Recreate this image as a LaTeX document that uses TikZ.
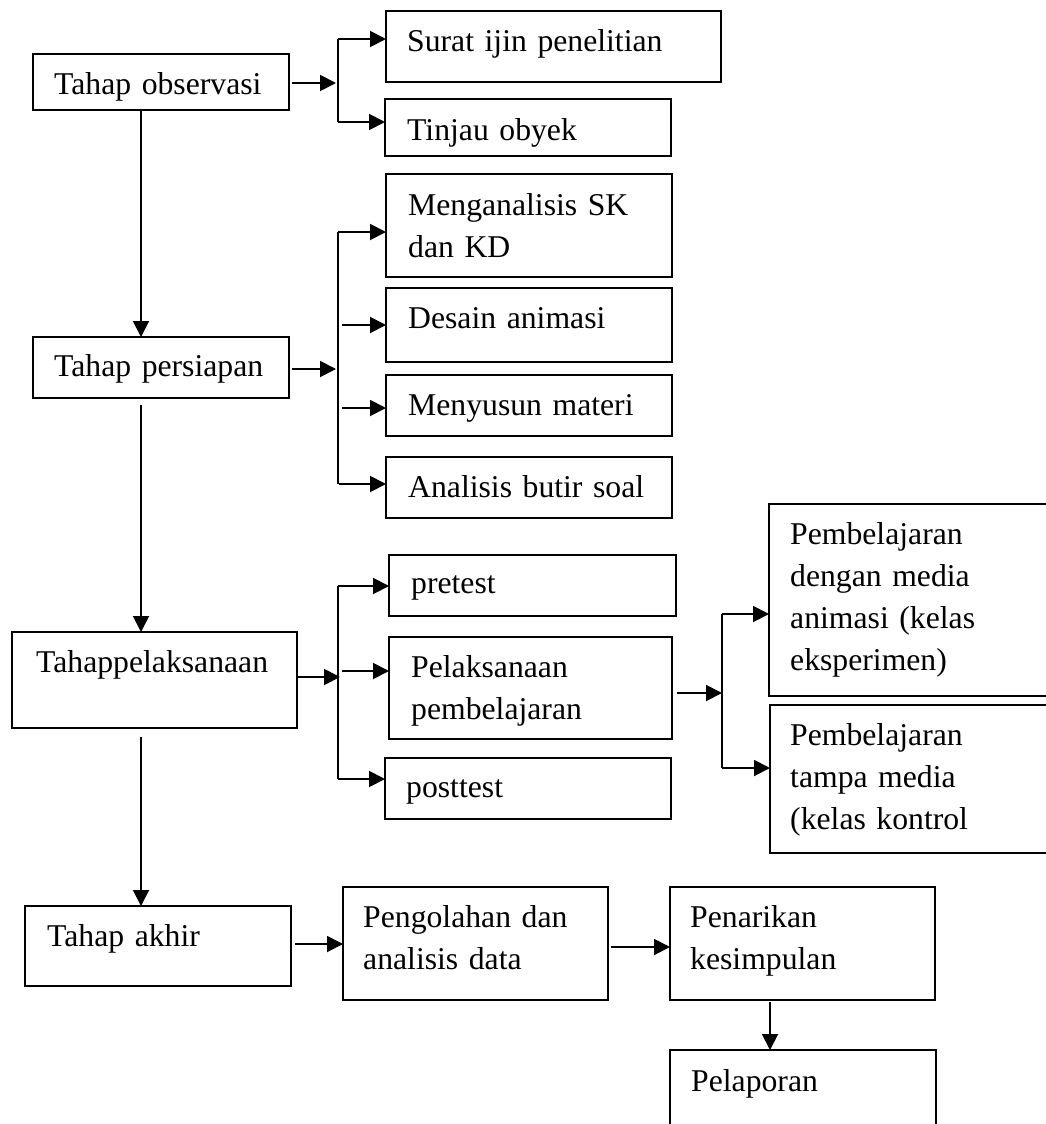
\documentclass[tikz,border=0pt]{standalone}
\usepackage{fontspec}
\setmainfont{Liberation Serif}
\usetikzlibrary{arrows.meta}
\newcommand\bx[5]{\node[box, minimum width={(#4-#2)*1pt}, minimum height={(#5-#3)*1pt}] (#1) at (#2,#3) {};}
\newcommand\tx[4]{\node[txt] (#1) at (#2,#3) {#4};}
\begin{document}
\begin{tikzpicture}[x=1pt,y=-1pt,
  box/.style={draw, line width=1.9pt, rectangle, inner sep=0pt, outer sep=0pt, anchor=north west},
  txt/.style={inner sep=0pt, anchor=base west, align=left, text width=320pt, font=\fontsize{31.7}{42}\selectfont},
  ln/.style={line width=1.9pt},
  arr/.style={line width=1.9pt, -{Triangle[length=16pt,width=16pt]}}]
\useasboundingbox (0,0) rectangle (1046,1124);
\clip (0,0) rectangle (1046,1124);
\fill[white] (0,0) rectangle (1046,1124);

% boxes
\bx{obs}{33}{54}{289}{110}
\bx{surat}{386}{11}{721}{82}
\bx{tinjau}{385}{99}{671}{156}
\bx{persiapan}{33}{337}{289}{398}
\bx{meng}{386}{174}{672}{277}
\bx{desain}{386}{288}{672}{362}
\bx{menyusun}{386}{375}{672}{436}
\bx{analisis}{386}{457}{672}{518}
\bx{pelaks}{12}{632}{297}{728}
\bx{pretest}{389}{555}{676}{616}
\bx{pemb}{389}{637}{672}{739}
\bx{posttest}{385}{758}{671}{819}
\bx{exp}{769}{504}{1070}{696}
\bx{kontrol}{770}{705}{1070}{853}
\bx{akhir}{25}{906}{291}{986}
\bx{olah}{343}{887}{608}{1000}
\bx{tarik}{670}{887}{935}{1000}
\bx{lapor}{670}{1050}{936}{1150}

% texts
\tx{obs-t}{54}{94}{Tahap observasi}
\tx{surat-t}{407}{52}{Surat ijin penelitian}
\tx{tinjau-t}{407}{140}{Tinjau obyek}
\tx{persiapan-t}{54}{376}{Tahap persiapan}
\tx{meng-t}{408}{215}{Menganalisis SK\\dan KD}
\tx{desain-t}{408}{328}{Desain animasi}
\tx{menyusun-t}{408}{415}{Menyusun materi}
\tx{analisis-t}{408}{497}{Analisis butir soal}
\tx{pelaks-t}{36}{672}{Tahappelaksanaan}
\tx{pretest-t}{411}{593}{pretest}
\tx{pemb-t}{411}{677}{Pelaksanaan\\pembelajaran}
\tx{posttest-t}{406}{797}{posttest}
\tx{exp-t}{790}{544}{Pembelajaran\\dengan media\\animasi (kelas\\eksperimen)}
\tx{kontrol-t}{790}{745}{Pembelajaran\\tampa media\\(kelas kontrol}
\tx{akhir-t}{47}{946}{Tahap akhir}
\tx{olah-t}{363}{927}{Pengolahan dan\\analisis data}
\tx{tarik-t}{690}{927}{Penarikan\\kesimpulan}
\tx{lapor-t}{691}{1091}{Pelaporan}

% junction coordinates
\coordinate (vx) at (141,0);
\coordinate (j1) at (336,83);
\coordinate (b1t) at (338,39);
\coordinate (b1b) at (338,122);
\coordinate (j2) at (336,369);
\coordinate (b2t) at (338,232);
\coordinate (b2b) at (338,484);
\coordinate (s2a) at (342,325);
\coordinate (s2b) at (342,408);
\coordinate (j3) at (340,677);
\coordinate (b3t) at (338,586);
\coordinate (b3b) at (338,779);
\coordinate (s3a) at (342,671);
\coordinate (j4) at (722,693);
\coordinate (b4t) at (722,614);
\coordinate (b4b) at (722,768);
\coordinate (vx2) at (770,0);

% observasi
\draw[arr] ([xshift=3pt]obs.east |- j1) -- (j1);
\draw[ln] (b1t) -- (b1b);
\draw[arr] (b1t) -- (b1t -| surat.west);
\draw[arr] (b1b) -- (b1b -| tinjau.west);
\draw[arr] ([yshift=-1pt]obs.south -| vx) -- (persiapan.north -| vx);

% persiapan
\draw[arr] ([xshift=3pt]persiapan.east |- j2) -- (j2);
\draw[ln] (b2t) -- (b2b);
\draw[arr] (b2t) -- (b2t -| meng.west);
\draw[arr] (s2a) -- (s2a -| desain.west);
\draw[arr] (s2b) -- (s2b -| menyusun.west);
\draw[arr] ([xshift=1pt]b2b) -- (b2b -| analisis.west);
\draw[arr] ([yshift=-7pt]persiapan.south -| vx) -- (pelaks.north -| vx);

% pelaksanaan
\draw[arr] (pelaks.east |- j3) -- (j3);
\draw[ln] (b3t) -- (b3b);
\draw[arr] (b3t) -- (b3t -| pretest.west);
\draw[arr] (s3a) -- (s3a -| pemb.west);
\draw[arr] (b3b) -- (b3b -| posttest.west);
\draw[arr] ([xshift=5pt]pemb.east |- j4) -- (j4);
\draw[ln] (b4t) -- (b4b);
\draw[arr] (b4t) -- (b4t -| exp.west);
\draw[arr] (b4b) -- (b4b -| kontrol.west);
\draw[arr] ([yshift=-9pt]pelaks.south -| vx) -- (akhir.north -| vx);

% akhir
\draw[arr] ([xshift=4pt]akhir.east |- 0,944) -- (olah.west |- 0,944);
\draw[arr] ([xshift=3pt]olah.east |- 0,947) -- (tarik.west |- 0,947);
\draw[arr] ([yshift=-2pt]tarik.south -| vx2) -- (lapor.north -| vx2);
\end{tikzpicture}
\end{document}
